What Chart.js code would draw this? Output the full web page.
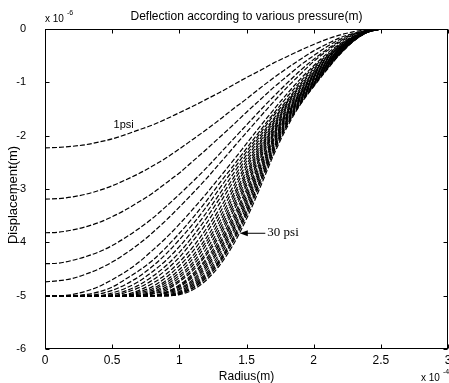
<!DOCTYPE html>
<html>
<head>
<meta charset="utf-8">
<script src="https://cdn.jsdelivr.net/npm/chart.js@4.4.1/dist/chart.umd.min.js"></script>
<style>
  html, body { margin: 0; padding: 0; background: #fff; }
  #wrap { width: 449px; height: 383px; }
</style>
</head>
<body>
<div id="wrap"><canvas id="chart" width="449" height="383"></canvas></div>
<script>
// deflection profiles. radius in 1e-4 m, displacement in 1e-6 m

const radius = [0, 0.1, 0.2, 0.3, 0.4, 0.5, 0.6, 0.7, 0.8, 0.9, 1.0, 1.1, 1.2, 1.3, 1.4, 1.5, 1.6, 1.7, 1.8, 1.9, 2.0, 2.1, 2.2, 2.3, 2.4, 2.5];

const pressureLabels = ['1 psi', '2 psi', '3 psi', '4 psi', '5 psi', '6 psi', '7 psi', '8 psi', '9 psi', '10 psi',
  '11 psi', '12 psi', '13 psi', '14 psi', '15 psi', '16 psi', '17 psi', '18 psi', '19 psi', '20 psi',
  '21 psi', '22 psi', '23 psi', '24 psi', '25 psi', '26 psi', '27 psi', '28 psi', '29 psi', '30 psi'];

const xTicks = [0, 0.5, 1, 1.5, 2, 2.5, 3];
const yTicks = [0, -1, -2, -3, -4, -5, -6];

// free diaphragm (not touching the bottom yet)
const psi1 = [-2.23, -2.22, -2.20, -2.17, -2.12, -2.06, -1.98, -1.89, -1.80, -1.69, -1.57, -1.45, -1.32, -1.19, -1.05, -0.91, -0.78, -0.64, -0.52, -0.40, -0.29, -0.19, -0.11, -0.05, -0.01, 0];
const psi2 = [-3.19, -3.18, -3.15, -3.10, -3.03, -2.94, -2.83, -2.71, -2.57, -2.42, -2.25, -2.07, -1.89, -1.70, -1.50, -1.31, -1.11, -0.92, -0.74, -0.57, -0.41, -0.28, -0.16, -0.08, -0.02, 0];
const psi3 = [-3.82, -3.81, -3.77, -3.71, -3.63, -3.52, -3.39, -3.24, -3.08, -2.89, -2.70, -2.48, -2.26, -2.03, -1.80, -1.56, -1.33, -1.10, -0.89, -0.68, -0.50, -0.33, -0.19, -0.09, -0.02, 0];
const psi4 = [-4.40, -4.39, -4.34, -4.27, -4.18, -4.06, -3.91, -3.74, -3.55, -3.33, -3.10, -2.86, -2.61, -2.34, -2.07, -1.80, -1.53, -1.27, -1.02, -0.78, -0.57, -0.38, -0.22, -0.10, -0.03, 0];
const psi5 = [-4.74, -4.72, -4.68, -4.60, -4.50, -4.37, -4.21, -4.03, -3.82, -3.59, -3.34, -3.08, -2.81, -2.52, -2.23, -1.94, -1.65, -1.37, -1.10, -0.85, -0.61, -0.41, -0.24, -0.11, -0.03, 0];

// touch mode: flat on the -5 gap, contact radius grows with pressure
const psi6 = [-5, -5, -4.98, -4.92, -4.83, -4.70, -4.55, -4.37, -4.15, -3.92, -3.66, -3.38, -3.09, -2.78, -2.47, -2.15, -1.83, -1.52, -1.22, -0.94, -0.69, -0.46, -0.27, -0.13, -0.03, 0];
const psi7 = [-5, -5, -5, -4.98, -4.93, -4.84, -4.69, -4.53, -4.34, -4.10, -3.83, -3.54, -3.23, -2.89, -2.57, -2.24, -1.91, -1.59, -1.28, -0.99, -0.72, -0.49, -0.29, -0.14, -0.04, 0];
const psi8 = [-5, -5, -5, -5, -4.97, -4.90, -4.79, -4.64, -4.45, -4.22, -3.95, -3.66, -3.34, -2.99, -2.64, -2.30, -1.96, -1.63, -1.34, -1.03, -0.75, -0.51, -0.30, -0.14, -0.04, 0];
const psi9 = [-5, -5, -5, -5, -5, -4.95, -4.86, -4.73, -4.55, -4.34, -4.08, -3.78, -3.45, -3.09, -2.72, -2.36, -2.01, -1.69, -1.37, -1.06, -0.78, -0.53, -0.32, -0.15, -0.04, 0];
const psi10 = [-5, -5, -5, -5, -5, -4.98, -4.91, -4.80, -4.64, -4.44, -4.19, -3.89, -3.55, -3.18, -2.80, -2.42, -2.06, -1.72, -1.39, -1.09, -0.81, -0.54, -0.33, -0.16, -0.05, 0];
const psi11 = [-5, -5, -5, -5, -5, -5, -4.94, -4.85, -4.71, -4.52, -4.28, -3.98, -3.65, -3.27, -2.87, -2.48, -2.11, -1.76, -1.42, -1.12, -0.82, -0.56, -0.33, -0.16, -0.05, 0];
const psi12 = [-5, -5, -5, -5, -5, -5, -4.98, -4.90, -4.77, -4.60, -4.37, -4.09, -3.75, -3.37, -2.96, -2.54, -2.15, -1.79, -1.45, -1.15, -0.84, -0.58, -0.35, -0.16, -0.05, 0];
const psi13 = [-5, -5, -5, -5, -5, -5, -4.99, -4.93, -4.83, -4.66, -4.44, -4.17, -3.83, -3.45, -3.03, -2.60, -2.20, -1.83, -1.47, -1.17, -0.86, -0.59, -0.35, -0.17, -0.05, 0];
const psi14 = [-5, -5, -5, -5, -5, -5, -5, -4.95, -4.87, -4.72, -4.51, -4.25, -3.92, -3.53, -3.11, -2.67, -2.24, -1.86, -1.50, -1.20, -0.88, -0.61, -0.36, -0.18, -0.05, 0];
const psi15 = [-5, -5, -5, -5, -5, -5, -5, -4.97, -4.90, -4.76, -4.57, -4.31, -3.99, -3.61, -3.17, -2.72, -2.28, -1.88, -1.53, -1.21, -0.89, -0.62, -0.37, -0.18, -0.05, 0];
const psi16 = [-5, -5, -5, -5, -5, -5, -5, -4.99, -4.93, -4.80, -4.62, -4.38, -4.05, -3.68, -3.24, -2.77, -2.32, -1.92, -1.56, -1.22, -0.91, -0.63, -0.37, -0.18, -0.05, 0];
const psi17 = [-5, -5, -5, -5, -5, -5, -5, -5, -4.94, -4.84, -4.66, -4.43, -4.13, -3.75, -3.31, -2.83, -2.36, -1.95, -1.57, -1.24, -0.92, -0.64, -0.38, -0.19, -0.05, 0];
const psi18 = [-5, -5, -5, -5, -5, -5, -5, -5, -4.96, -4.87, -4.71, -4.49, -4.20, -3.82, -3.37, -2.89, -2.41, -1.97, -1.59, -1.25, -0.94, -0.65, -0.39, -0.19, -0.05, 0];
const psi19 = [-5, -5, -5, -5, -5, -5, -5, -5, -4.97, -4.90, -4.74, -4.53, -4.24, -3.88, -3.43, -2.94, -2.44, -2.00, -1.62, -1.26, -0.96, -0.66, -0.39, -0.19, -0.05, 0];
const psi20 = [-5, -5, -5, -5, -5, -5, -5, -5, -5, -4.93, -4.80, -4.59, -4.31, -3.95, -3.51, -3.01, -2.50, -2.04, -1.63, -1.28, -0.97, -0.67, -0.41, -0.19, -0.06, 0];
const psi21 = [-5, -5, -5, -5, -5, -5, -5, -5, -5, -4.94, -4.82, -4.62, -4.35, -4.01, -3.57, -3.06, -2.54, -2.07, -1.65, -1.29, -0.98, -0.68, -0.41, -0.20, -0.06, 0];
const psi22 = [-5, -5, -5, -5, -5, -5, -5, -5, -5, -4.95, -4.84, -4.65, -4.40, -4.05, -3.62, -3.12, -2.59, -2.09, -1.67, -1.31, -1.00, -0.68, -0.42, -0.20, -0.06, 0];
const psi23 = [-5, -5, -5, -5, -5, -5, -5, -5, -5, -4.96, -4.87, -4.70, -4.44, -4.11, -3.68, -3.17, -2.63, -2.12, -1.70, -1.32, -1.01, -0.69, -0.42, -0.20, -0.06, 0];
const psi24 = [-5, -5, -5, -5, -5, -5, -5, -5, -5, -4.98, -4.89, -4.73, -4.48, -4.15, -3.74, -3.23, -2.68, -2.15, -1.71, -1.33, -1.02, -0.70, -0.42, -0.20, -0.06, 0];
const psi25 = [-5, -5, -5, -5, -5, -5, -5, -5, -5, -4.99, -4.92, -4.76, -4.53, -4.21, -3.78, -3.28, -2.72, -2.19, -1.73, -1.35, -1.03, -0.71, -0.44, -0.20, -0.06, 0];
const psi26 = [-5, -5, -5, -5, -5, -5, -5, -5, -5, -5, -4.94, -4.79, -4.58, -4.26, -3.84, -3.34, -2.77, -2.22, -1.76, -1.36, -1.04, -0.72, -0.44, -0.21, -0.06, 0];
const psi27 = [-5, -5, -5, -5, -5, -5, -5, -5, -5, -5, -4.95, -4.82, -4.61, -4.32, -3.91, -3.40, -2.83, -2.25, -1.78, -1.38, -1.05, -0.73, -0.45, -0.21, -0.06, 0];
const psi28 = [-5, -5, -5, -5, -5, -5, -5, -5, -5, -5, -4.96, -4.85, -4.64, -4.35, -3.95, -3.44, -2.86, -2.29, -1.80, -1.40, -1.06, -0.74, -0.45, -0.22, -0.06, 0];
const psi29 = [-5, -5, -5, -5, -5, -5, -5, -5, -5, -5, -4.97, -4.86, -4.67, -4.38, -3.99, -3.49, -2.91, -2.32, -1.81, -1.41, -1.07, -0.75, -0.46, -0.22, -0.06, 0];
const psi30 = [-5, -5, -5, -5, -5, -5, -5, -5, -5, -5, -4.98, -4.89, -4.71, -4.43, -4.05, -3.56, -2.98, -2.37, -1.85, -1.42, -1.08, -0.76, -0.46, -0.22, -0.06, 0];

const curves = [psi1, psi2, psi3, psi4, psi5, psi6, psi7, psi8, psi9, psi10,
  psi11, psi12, psi13, psi14, psi15, psi16, psi17, psi18, psi19, psi20,
  psi21, psi22, psi23, psi24, psi25, psi26, psi27, psi28, psi29, psi30];

const SANS = '"Liberation Sans", Arial, sans-serif';
const SERIF = '"Liberation Serif", "Times New Roman", serif';

// matlab style box, inward ticks and the loose text
const matlabAxes = {
  id: 'matlabAxes',
  afterDatasetsDraw(chart) {
    const { ctx, chartArea: a, scales: { x, y } } = chart;
    ctx.save();
    ctx.strokeStyle = '#000';
    ctx.fillStyle = '#000';
    ctx.lineWidth = 1;
    ctx.setLineDash([]);

    const L = a.left + 0.5, R = a.right - 0.5, T = a.top + 0.5, B = a.bottom - 0.5;
    ctx.strokeRect(L, T, R - L, B - T);

    ctx.beginPath();
    xTicks.forEach(v => {
      const px = Math.round(x.getPixelForValue(v)) + 0.5;
      ctx.moveTo(px, B); ctx.lineTo(px, B - 4);
      ctx.moveTo(px, T); ctx.lineTo(px, T + 4);
    });
    yTicks.forEach(v => {
      const py = Math.round(y.getPixelForValue(v)) + 0.5;
      ctx.moveTo(L, py); ctx.lineTo(L + 4, py);
      ctx.moveTo(R, py); ctx.lineTo(R - 4, py);
    });
    ctx.stroke();

    const cx = (a.left + a.right) / 2;

    // title
    ctx.font = '12px ' + SANS;
    ctx.textAlign = 'center';
    ctx.textBaseline = 'alphabetic';
    ctx.fillText('Deflection according to various pressure(m)', cx, 20, 232);

    // x label
    ctx.fillText('Radius(m)', cx, 380);

    // y label
    ctx.save();
    ctx.translate(17, (a.top + a.bottom) / 2 + 6);
    ctx.rotate(-Math.PI / 2);
    ctx.font = '13px ' + SANS;
    ctx.fillText('Displacement(m)', 0, 0);
    ctx.restore();

    // exponent markers
    ctx.textAlign = 'left';
    ctx.font = '10px ' + SANS;
    ctx.fillText('x 10', 45, 22);
    ctx.fillText('x 10', 421, 381);
    ctx.font = '7px ' + SANS;
    ctx.fillText('-6', 67, 15);
    ctx.fillText('-4', 443, 374);

    // curve annotations
    ctx.font = '11px ' + SANS;
    ctx.fillText('1psi', x.getPixelForValue(0.51), y.getPixelForValue(-1.86));

    const tipX = x.getPixelForValue(1.45), tipY = y.getPixelForValue(-3.83);
    const tailX = x.getPixelForValue(1.64);
    ctx.beginPath();
    ctx.moveTo(tailX, tipY);
    ctx.lineTo(tipX + 6, tipY);
    ctx.stroke();
    ctx.beginPath();
    ctx.moveTo(tipX, tipY);
    ctx.lineTo(tipX + 8, tipY - 3);
    ctx.lineTo(tipX + 8, tipY + 3);
    ctx.closePath();
    ctx.fill();

    ctx.font = '13px ' + SERIF;
    ctx.fillText('30 psi', x.getPixelForValue(1.655), y.getPixelForValue(-3.88));

    ctx.restore();
  }
};

const datasets = curves.map((ys, k) => ({
  label: pressureLabels[k],
  data: radius.map((r, i) => ({ x: r, y: ys[i] })),
  borderColor: '#000',
  borderWidth: 1.2,
  borderDash: [5, 2],
  pointRadius: 0,
  fill: false,
  cubicInterpolationMode: 'monotone'
}));

new Chart(document.getElementById('chart'), {
  type: 'line',
  data: { datasets },
  options: {
    responsive: false,
    animation: false,
    layout: { padding: { top: 29, right: 1, left: 0, bottom: 0 } },
    plugins: {
      legend: { display: false },
      tooltip: { enabled: false }
    },
    scales: {
      x: {
        type: 'linear',
        min: 0,
        max: 3,
        grid: { display: false },
        border: { display: false },
        ticks: {
          stepSize: 0.5,
          autoSkip: false,
          maxRotation: 0,
          padding: -4,
          color: '#000',
          font: { family: SANS, size: 12 },
          callback: v => String(v)
        },
        afterFit(s) {
          s.height = 34;
          s.paddingLeft = 0;
          s.paddingRight = 0;
        }
      },
      y: {
        min: -6,
        max: 0,
        grid: { display: false },
        border: { display: false },
        ticks: {
          stepSize: 1,
          padding: 11,
          color: '#000',
          font: { family: SANS, size: 11 },
          callback: v => String(v)
        },
        afterFit(s) {
          s.width = 45;
          s.paddingTop = 0;
          s.paddingBottom = 0;
        }
      }
    }
  },
  plugins: [matlabAxes]
});
</script>
</body>
</html>
